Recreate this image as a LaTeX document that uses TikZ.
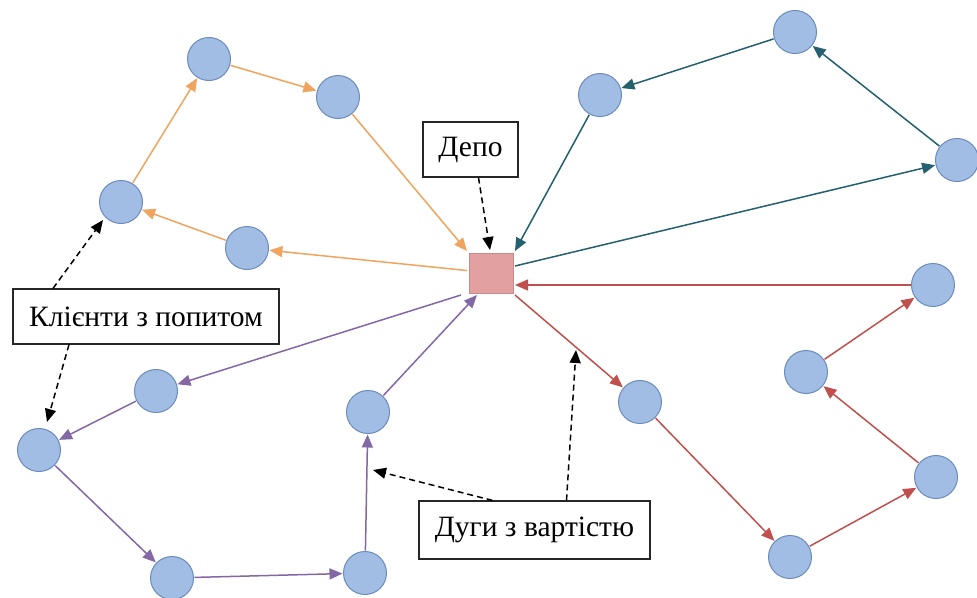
\documentclass[tikz,border=0pt]{standalone}
\usepackage{fontspec}
\setmainfont{Liberation Serif}
\usetikzlibrary{arrows.meta}
\definecolor{nodefill}{HTML}{A2BDE4}
\definecolor{nodeline}{HTML}{6B8BBD}
\definecolor{depotfill}{HTML}{E3A0A0}
\definecolor{depotline}{HTML}{C98A8A}
\definecolor{routeO}{HTML}{F0A45E}
\definecolor{routeT}{HTML}{24606E}
\definecolor{routeR}{HTML}{C0504D}
\definecolor{routeP}{HTML}{8468A6}
\tikzset{
  client/.style={circle, draw=nodeline, fill=nodefill, line width=1pt,
    minimum size=43pt, inner sep=0pt, outer sep=1pt},
  depot/.style={rectangle, draw=depotline, fill=depotfill, line width=0.8pt,
    minimum width=44pt, minimum height=40pt, inner sep=0pt, outer sep=2pt},
  label box/.style={rectangle, draw=black!85, fill=white, line width=1.2pt,
    font=\fontsize{29.5}{32}\selectfont, inner sep=0pt},
  edge/.style={line width=1.5pt, -{Triangle[length=13pt,width=11pt]}},
  pointer/.style={line width=1.5pt, dashed, dash pattern=on 6pt off 4pt,
    -{Triangle[length=13pt,width=11pt]}, black}
}
\begin{document}
\begin{tikzpicture}[x=1pt, y=-1pt]
\useasboundingbox[fill=white] (0,0) rectangle (977,597);

% depot
\node[depot] (D) at (491,273) {};

% customers
\node[client] (O1) at (209,59) {};
\node[client] (O2) at (338,97) {};
\node[client] (O3) at (121,202) {};
\node[client] (O4) at (247,248) {};

\node[client] (T1) at (795,32) {};
\node[client] (T2) at (600,95) {};
\node[client] (T3) at (957,160) {};

\node[client] (R1) at (933,285) {};
\node[client] (R2) at (806,372) {};
\node[client] (R3) at (640,402) {};
\node[client] (R4) at (936,477) {};
\node[client] (R5) at (790,557) {};

\node[client] (P1) at (156,391) {};
\node[client] (P2) at (39,450) {};
\node[client] (P3) at (368,412) {};
\node[client] (P4) at (172,578) {};
\node[client] (P5) at (365,573) {};

% orange route
\draw[edge, routeO] (D) -- (O4);
\draw[edge, routeO] (O4) -- (O3);
\draw[edge, routeO] (O3) -- (O1);
\draw[edge, routeO] (O1) -- (O2);
\draw[edge, routeO] (O2) -- (D.north west);

% teal route
\draw[edge, routeT] ([yshift=7pt]D.east) -- (T3);
\draw[edge, routeT] (T3) -- (T1);
\draw[edge, routeT] (T1) -- (T2);
\draw[edge, routeT] (T2) -- (D.north east);

% red route
\draw[edge, routeR] (R1) -- ([yshift=-12pt]D.east);
\draw[edge, routeR] (D.south east) -- (R3);
\draw[edge, routeR] (R3) -- (R5);
\draw[edge, routeR] (R5) -- (R4);
\draw[edge, routeR] (R4) -- (R2);
\draw[edge, routeR] (R2) -- (R1);

% purple route
\draw[edge, routeP] ([xshift=-6pt]D.south west) -- (P1);
\draw[edge, routeP] (P1) -- (P2);
\draw[edge, routeP] (P2) -- (P4);
\draw[edge, routeP] (P4) -- (P5);
\draw[edge, routeP] (P5) -- (P3);
\draw[edge, routeP] (P3) -- ([xshift=-14pt]D.south);

% labels
\node[label box, minimum width=95pt, minimum height=55pt] (Ldep) at (470.5,149.5) {Депо};
\node[label box, minimum width=266pt, minimum height=55pt] (Lcli) at (146,316.5) {Клієнти з попитом};
\node[label box, minimum width=231pt, minimum height=58pt] (Larc) at (534.5,530) {Дуги з вартістю};

% pointer targets
\coordinate (tD) at (490,250);
\coordinate (tK1) at (103,220);
\coordinate (tK2) at (47,422);
\coordinate (tA1) at (373,470);
\coordinate (tA2) at (576,350);

\draw[pointer] ([xshift=8pt]Ldep.south) -- (tD);
\draw[pointer] ([xshift=-93pt]Lcli.north) -- (tK1);
\draw[pointer] ([xshift=-77pt]Lcli.south) -- (tK2);
\draw[pointer] ([xshift=-42pt]Larc.north) -- (tA1);
\draw[pointer] ([xshift=32pt]Larc.north) -- (tA2);
\end{tikzpicture}
\end{document}
